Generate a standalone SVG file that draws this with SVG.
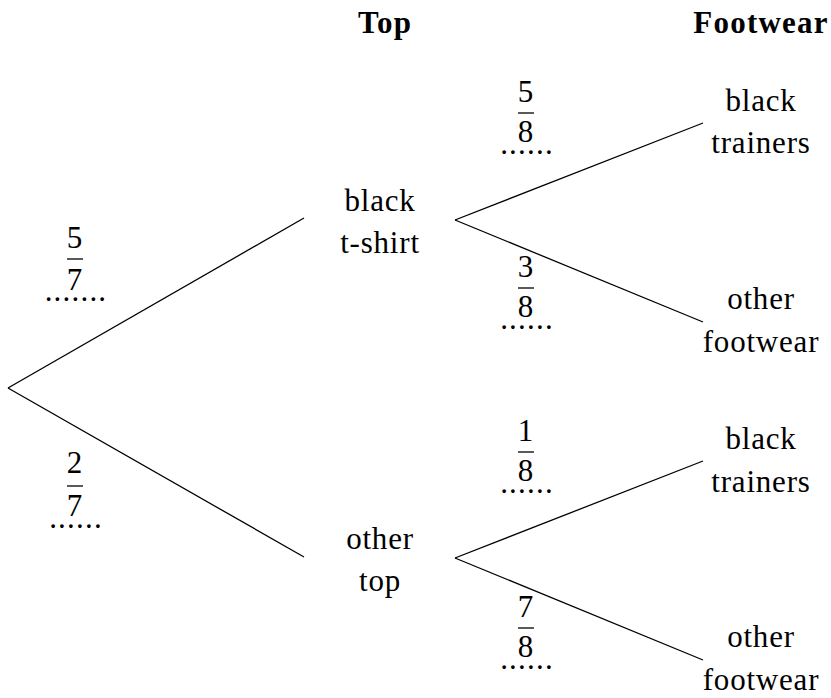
<svg xmlns="http://www.w3.org/2000/svg" width="831" height="698" viewBox="0 0 831 698">
<style>
text{font-family:"Liberation Serif","DejaVu Serif",serif;font-size:31px;fill:#000;text-anchor:middle;letter-spacing:0.8px}
.h{font-weight:bold;letter-spacing:1.2px}
.d{letter-spacing:1.2px}
line{stroke:#000;stroke-width:1.3}
.bar{stroke-width:1.3}
</style>
<rect width="831" height="698" fill="#fff"/>
<g id="connectors">
<line x1="8" y1="388" x2="304" y2="218"/>
<line x1="8" y1="388" x2="304" y2="557"/>
<line x1="455" y1="220" x2="703" y2="123"/>
<line x1="455" y1="220" x2="703" y2="322"/>
<line x1="455" y1="558" x2="703" y2="461"/>
<line x1="455" y1="558" x2="703" y2="660"/>
</g>
<g id="headers">
<text class="h" x="385" y="33">Top</text>
<text class="h" x="761" y="33">Footwear</text>
</g>
<g id="n-black-tshirt"><text x="380" y="211">black</text><text x="380" y="253">t-shirt</text></g>
<g id="n-other-top"><text x="380" y="549">other</text><text x="380" y="591">top</text></g>
<g id="n-bt1"><text x="761" y="111">black</text><text x="761" y="153">trainers</text></g>
<g id="n-of1"><text x="761" y="309">other</text><text x="761" y="352">footwear</text></g>
<g id="n-bt2"><text x="761" y="449">black</text><text x="761" y="492">trainers</text></g>
<g id="n-of2"><text x="761" y="647">other</text><text x="761" y="690">footwear</text></g>
<g id="p-57"><text x="75" y="248">5</text><line class="bar" x1="67" y1="259" x2="83" y2="259"/><text x="75" y="290">7</text><text class="d" x="76" y="301">.......</text></g>
<g id="p-27"><text x="75" y="473">2</text><line class="bar" x1="67" y1="486" x2="83" y2="486"/><text x="75" y="516">7</text><text class="d" x="76" y="528">......</text></g>
<g id="p-58"><text x="526" y="102">5</text><line class="bar" x1="518" y1="113" x2="534" y2="113"/><text x="526" y="142">8</text><text class="d" x="527" y="154">......</text></g>
<g id="p-38"><text x="526" y="277">3</text><line class="bar" x1="518" y1="288" x2="534" y2="288"/><text x="526" y="317">8</text><text class="d" x="527" y="329">......</text></g>
<g id="p-18"><text x="526" y="441">1</text><line class="bar" x1="518" y1="452" x2="534" y2="452"/><text x="526" y="481">8</text><text class="d" x="527" y="493">......</text></g>
<g id="p-78"><text x="526" y="617">7</text><line class="bar" x1="518" y1="628" x2="534" y2="628"/><text x="526" y="657">8</text><text class="d" x="527" y="669">......</text></g>
</svg>
